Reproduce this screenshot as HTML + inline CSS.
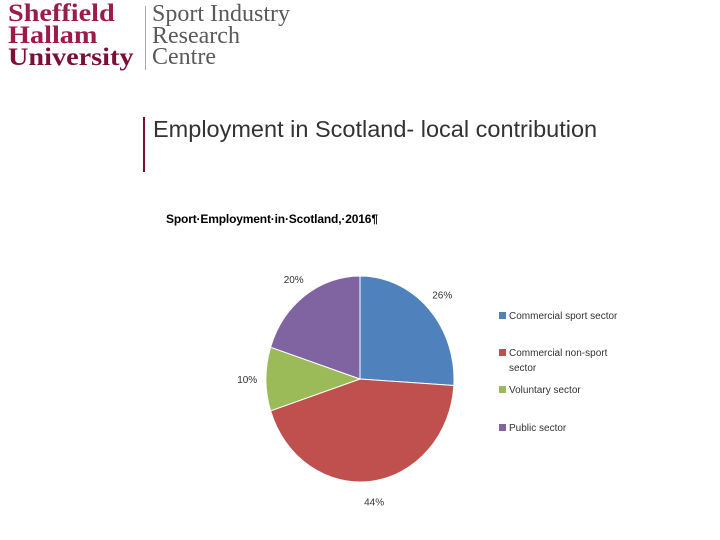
<!DOCTYPE html>
<html><head><meta charset="utf-8"><style>
body{margin:0;width:720px;height:540px;background:#fff;position:relative;overflow:hidden;font-family:"Liberation Sans",sans-serif}
.abs{position:absolute}
.shu{left:8px;top:3px;font-family:"Liberation Serif",serif;font-weight:bold;font-size:25px;line-height:22px;color:#9b1b4a;transform:scaleX(1.13);transform-origin:0 0}
.sirc{left:152px;top:4px;font-family:"Liberation Serif",serif;font-size:24px;line-height:21.5px;color:#5a5a5a}
</style></head><body>
<div class="abs shu">Sheffield<br>Hallam<br><span style="color:#7a1038">University</span></div>
<div class="abs" style="left:145px;top:6px;width:1px;height:64px;background:#aaa"></div>
<div class="abs sirc">Sport Industry<br>Research<br>Centre</div>
<div class="abs" style="left:143px;top:117px;width:2px;height:55px;background:#7a1038"></div>
<div class="abs" style="left:153px;top:116px;font-size:23.5px;color:#333">Employment in Scotland- local contribution</div>
<svg class="abs" style="left:0;top:0" width="720" height="540">
<text x="166" y="223" font-family="Liberation Sans,sans-serif" font-weight="bold" font-size="12" fill="#000" textLength="212">Sport·Employment·in·Scotland,·2016¶</text>
<g id="slices"></g><g id="labels"></g><g id="legend"></g>
</svg>
<script>
const categories=["Commercial sport sector","Commercial non-sport sector","Voluntary sector","Public sector"];
const values=[26,44,10,20];
const labels=["26%","44%","10%","20%"];
const colors=["#4f81bd","#c0504d","#9bbb59","#8064a2"];
const cx=360,cy=379,rx=94,ry=103;
const ns="http://www.w3.org/2000/svg";
const total=values.reduce((a,b)=>a+b,0);
let a0=0;
const sl=document.getElementById('slices'),lb=document.getElementById('labels'),lg=document.getElementById('legend');
const pt=(a,k)=>[cx+rx*k*Math.sin(a),cy-ry*k*Math.cos(a)];
values.forEach((v,i)=>{
 const a1=a0+v/total*2*Math.PI;
 const [x0,y0]=pt(a0,1),[x1,y1]=pt(a1,1);
 const p=document.createElementNS(ns,'path');
 p.setAttribute('d',`M${cx},${cy}L${x0},${y0}A${rx},${ry} 0 ${a1-a0>Math.PI?1:0} 1 ${x1},${y1}Z`);
 p.setAttribute('fill',colors[i]);p.setAttribute('stroke','#fff');p.setAttribute('stroke-width','1');
 
 
 sl.appendChild(p);
 const am=(a0+a1)/2;const [lx,ly]=pt(am,1.2);
 const t=document.createElementNS(ns,'text');
 t.setAttribute('x',lx);t.setAttribute('y',ly+4);t.setAttribute('text-anchor','middle');
 t.setAttribute('font-size','10');t.setAttribute('fill','#333');t.textContent=labels[i];
 
 
 lb.appendChild(t);
 a0=a1;
});
const ly=[316,353,390,428];
categories.forEach((c,i)=>{
 const g=document.createElementNS(ns,'g');
 
 
 const r=document.createElementNS(ns,'rect');
 r.setAttribute('x',499);r.setAttribute('y',ly[i]-4);r.setAttribute('width',7);r.setAttribute('height',7);r.setAttribute('fill',colors[i]);
 g.appendChild(r);
 const lines=i==1?["Commercial non-sport","sector"]:[c];
 lines.forEach((s,j)=>{const t=document.createElementNS(ns,'text');
 t.setAttribute('x',509);t.setAttribute('y',ly[i]+3+j*15);t.setAttribute('font-size','10');t.setAttribute('fill','#333');t.textContent=s;g.appendChild(t);});
 lg.appendChild(g);
});
</script>
</body></html>
